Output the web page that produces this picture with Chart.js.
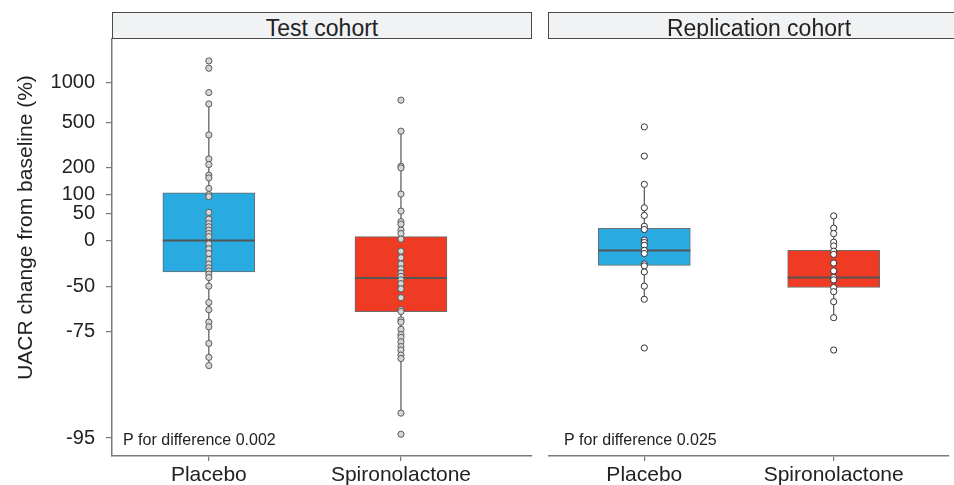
<!DOCTYPE html>
<html>
<head>
<meta charset="utf-8">
<script src="https://cdn.jsdelivr.net/npm/chart.js@4.4.1/dist/chart.umd.min.js"></script>
<style>
  html, body { margin: 0; padding: 0; background: #fff; }
  body { width: 954px; height: 485px; overflow: hidden; position: relative; font-family: "Liberation Sans", Arial, sans-serif; }
  canvas { position: absolute; top: 0; }
  #c1 { left: 0; }
  #c2 { left: 540px; }
  .strip { position: absolute; top: 12px; height: 27px; box-sizing: border-box; background: #f1f2f4; border: 1px solid #4a4a4a; overflow: hidden; }
  .strip span { position: absolute; left: 0; right: 0; top: 1.5px; text-align: center; font-size: 23px; line-height: 27px; color: #222; white-space: nowrap; }
</style>
</head>
<body>
<canvas id="c1" width="540" height="485"></canvas>
<canvas id="c2" width="414" height="485"></canvas>
<div class="strip" style="left:112px;width:420px;"><span id="s1"></span></div>
<div class="strip" style="left:548px;width:422px;"><span id="s2"></span></div>
<script>
// ---------------- data ----------------
const COHORTS = ['Test cohort', 'Replication cohort'];
const GROUPS = ['Placebo', 'Spironolactone'];
const Y_TITLE = 'UACR change from baseline (%)';
const Y_TICKS = [1000, 500, 200, 100, 50, 0, -50, -75, -95];
const Y_TICK_LABELS = ['1000', '500', '200', '100', '50', '0', '-50', '-75', '-95'];
const P_LABELS = ['P for difference 0.002', 'P for difference 0.025'];

// individual UACR changes (%)
const testPlacebo = [1419, 1260, 841, 692, 395, 244, 216, 169, 158, 120, 100, 94, 53, 38, 29, 23, 17, 11, 6,
  -5, -12, -18, -25, -30, -34, -37, -40, -43, -50, -61, -65, -71, -73, -79, -83, -85];
const testSpiro = [738, 424, 208, 200, 102, 56, 33, 28, 17, 11, 2, -15, -23, -30, -35, -39, -42, -45, -48,
  -52, -58, -65, -66, -70, -71, -74, -76, -77, -78.5, -80, -81, -82.4, -83.3, -92.7, -94.7];
const repPlacebo = [459, 259, 134, 64, 46, 24, 18, 0.5, -3, -7, -14, -18, -30, -32, -38, -50, -59, -80.4];
const repSpiro = [45, 20.5, 11, -2.6, -8, -15, -19, -29, -37, -43, -45, -51, -54, -60.5, -69, -81];

// box statistics: [lower whisker, Q1, median, Q3, upper whisker] (%)
const testPlaceboBox = [-85, -38, 0, 106, 692];
const testSpiroBox = [-92.7, -66, -43.5, 6, 424];
const repPlaceboBox = [-59, -31.5, -14, 20, 134];
const repSpiroBox = [-69, -51, -43, -14, 45];

// ---------------- helpers ----------------
const toLog = p => Math.log10(1 + p / 100);
const Y_MIN = -1.419, Y_MAX = 1.326;
const BLUE = '#29abe2', RED = '#ef3a24';
const FONT = '"Liberation Sans", Arial, sans-serif';

document.getElementById('s1').textContent = COHORTS[0];
document.getElementById('s2').textContent = COHORTS[1];

const medianPlugin = {
  id: 'medians',
  afterDatasetDraw(chart, args, opts) {
    if (args.index !== opts.boxIndex) return;
    const ctx = chart.ctx, y = chart.scales.y;
    ctx.save();
    ctx.strokeStyle = '#555';
    ctx.lineWidth = 2;
    args.meta.data.forEach((el, i) => {
      const py = y.getPixelForValue(toLog(opts.values[i]));
      ctx.beginPath();
      ctx.moveTo(el.x - el.width / 2, py);
      ctx.lineTo(el.x + el.width / 2, py);
      ctx.stroke();
    });
    ctx.restore();
  }
};

const textPlugin = {
  id: 'annot',
  afterDraw(chart, args, opts) {
    const ctx = chart.ctx, a = chart.chartArea;
    ctx.save();
    ctx.fillStyle = '#222';
    ctx.font = '16px ' + FONT;
    ctx.textBaseline = 'alphabetic';
    ctx.textAlign = 'left';
    ctx.fillText(opts.p, a.left + opts.pOffset, 445);
    if (opts.yTitle) {
      ctx.translate(31.5, 227.5);
      ctx.rotate(-Math.PI / 2);
      ctx.font = '21px ' + FONT;
      ctx.textAlign = 'center';
      ctx.fillText(opts.yTitle, 0, 0);
    }
    ctx.restore();
  }
};

function makeChart(id, boxes, points, ptFill, ptEdge, xMin, xMax, showY, pText, pOffset, padLeft, padRight) {
  const boxData = boxes.map((b, i) => ({ x: i + 1, y: [toLog(b[1]), toLog(b[3])] }));
  const whisk = [];
  boxes.forEach((b, i) => {
    whisk.push({ x: i + 1, y: toLog(b[0]) }, { x: i + 1, y: toLog(b[4]) });
    if (i < boxes.length - 1) whisk.push({ x: i + 1, y: null });
  });
  const ptData = [];
  points.forEach((arr, i) => arr.forEach(v => ptData.push({ x: i + 1, y: toLog(v) })));

  return new Chart(document.getElementById(id), {
    type: 'bar',
    data: {
      datasets: [
        { type: 'line', data: whisk, borderColor: '#555', borderWidth: 1.2, pointRadius: 0, spanGaps: false, order: 4 },
        { type: 'bar', data: boxData, backgroundColor: [BLUE, RED], borderColor: '#6b6b6b', borderWidth: 1,
          borderSkipped: false, barThickness: 92, grouped: false, order: 3 },
        { type: 'scatter', data: ptData, backgroundColor: ptFill, borderColor: ptEdge, borderWidth: 1,
          pointRadius: 3.1, order: 1 }
      ]
    },
    options: {
      responsive: false,
      animation: false,
      devicePixelRatio: 1,
      layout: { padding: { top: 39, right: padRight, left: padLeft, bottom: 0 } },
      plugins: {
        legend: { display: false },
        tooltip: { enabled: false },
        medians: { boxIndex: 1, values: boxes.map(b => b[2]) },
        annot: { p: pText, pOffset: pOffset, yTitle: showY ? Y_TITLE : null }
      },
      scales: {
        x: {
          type: 'linear', min: xMin, max: xMax, offset: false,
          afterFit: s => { s.height = 29; },
          afterBuildTicks: s => { s.ticks = GROUPS.map((g, i) => ({ value: i + 1 })); },
          ticks: { callback: (v, i) => GROUPS[i], color: '#222', font: { size: 21, family: FONT }, padding: 2, maxRotation: 0, autoSkip: false },
          grid: { offset: false, drawOnChartArea: false, drawTicks: true, tickLength: 5, color: '#7a7a7a', lineWidth: 1.2 },
          border: { display: true, color: '#7a7a7a', width: 1.5 }
        },
        y: {
          type: 'linear', min: Y_MIN, max: Y_MAX, display: showY,
          afterFit: s => { s.width = showY ? 112 : 0; },
          afterBuildTicks: s => { s.ticks = Y_TICKS.map(v => ({ value: toLog(v) })); },
          ticks: { callback: (v, i) => Y_TICK_LABELS[i], color: '#222', font: { size: 20, family: FONT }, padding: 11, autoSkip: false },
          grid: { offset: false, drawOnChartArea: false, drawTicks: true, tickLength: 6, color: '#7a7a7a', lineWidth: 1.2 },
          border: { display: true, color: '#7a7a7a', width: 1.5 }
        }
      }
    },
    plugins: [medianPlugin, textPlugin]
  });
}

makeChart('c1', [testPlaceboBox, testSpiroBox], [testPlacebo, testSpiro], '#d6d6d6', '#5a5a5a',
  0.496, 2.682, true, P_LABELS[0], 11, 0, 8);
makeChart('c2', [repPlaceboBox, repSpiroBox], [repPlacebo, repSpiro], '#ffffff', '#333333',
  0.494, 2.609, false, P_LABELS[1], 15.5, 8.5, 0);
</script>
</body>
</html>
